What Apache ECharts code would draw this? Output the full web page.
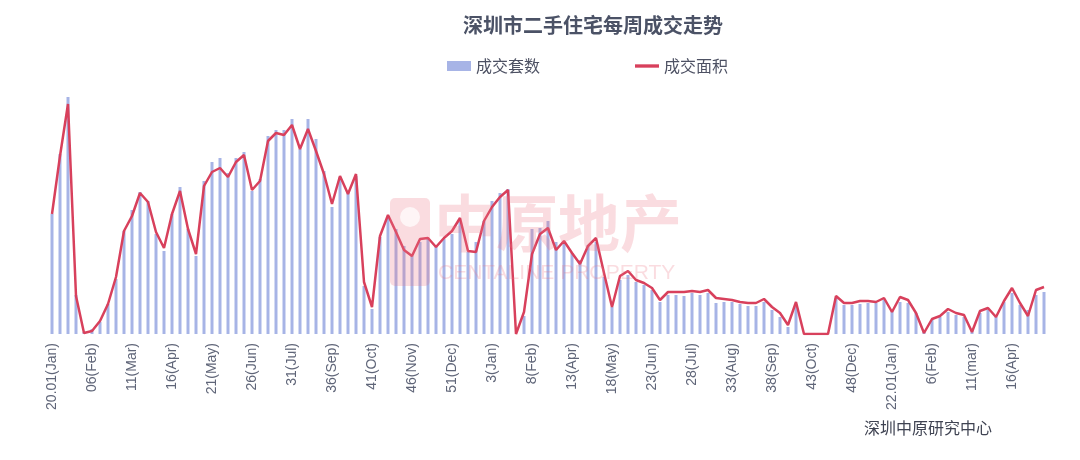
<!DOCTYPE html>
<html>
<head>
<meta charset="utf-8">
<script src="https://cdn.jsdelivr.net/npm/echarts@6/dist/echarts.min.js"></script>
<style>
html,body{margin:0;padding:0;background:#fff;}
#chart{width:1080px;height:460px;}
</style>
</head>
<body>
<div id="chart"></div>
<script>
// Weeks per year shown: 2020 (53 weeks), 2021 (52 weeks), 2022 (first 20 weeks)
const years = ['20', '21', '22'];
const weeksPerYear = [53, 52, 20];
// Tick labels shown every 5th week
const tickLabels = ['20.01(Jan)','06(Feb)','11(Mar)','16(Apr)','21(May)','26(Jun)','31(Jul)','36(Sep)','41(Oct)','46(Nov)','51(Dec)',
  '3(Jan)','8(Feb)','13(Apr)','18(May)','23(Jun)','28(Jul)','33(Aug)','38(Sep)','43(Oct)','48(Dec)',
  '22.01(Jan)','6(Feb)','11(mar)','16(Apr)'];

// 成交套数 (relative units)
const units = [
  120,180,237,39,2,5,12,30,55,103,
  124,142,133,100,83,120,147,105,78,153,
  172,176,161,176,182,143,155,198,204,204,
  215,185,215,195,163,127,157,142,158,48,
  25,97,117,105,88,78,92,95,87,95,
  100,112,82,92,113,133,141,145,0,18,
  105,106,113,92,91,81,74,89,92,57,
  27,54,59,52,49,44,32,39,39,38,
  41,39,41,31,32,32,30,28,28,32,
  24,17,7,27,0,0,0,0,36,29,
  29,30,31,31,34,24,32,31,21,4,
  14,17,22,19,17,4,21,24,17,32,
  41,29,24,39,42
];
// 成交面积 (relative units)
const area = [
  120,178,230,38,1,3,13,30,57,103,
  118,141,132,102,86,120,143,105,80,148,
  162,166,157,172,179,144,153,193,201,199,
  209,185,205,183,160,130,158,140,160,52,
  27,98,119,102,84,78,95,96,87,96,
  103,116,83,82,113,127,137,144,0,22,
  80,100,106,84,93,81,70,88,96,61,
  27,58,63,54,51,46,34,42,42,42,
  43,42,44,36,35,34,32,31,31,35,
  27,21,9,32,0,0,0,0,38,31,
  31,33,33,32,36,22,37,34,21,1,
  15,18,25,21,19,2,23,26,17,33,
  46,31,18,44,47
];

const categories = [];
years.forEach((y, yi) => {
  for (let w = 1; w <= weeksPerYear[yi]; w++) categories.push(y + '-W' + w);
});

const chart = echarts.init(document.getElementById('chart'), null, {renderer: 'canvas'});
const wmColor = 'rgba(236,120,135,0.26)';
chart.setOption({
  animation: false,
  backgroundColor: '#ffffff',
  title: {
    text: '深圳市二手住宅每周成交走势',
    left: 588, top: 10, textAlign: 'center',
    textStyle: {fontSize: 20, fontWeight: 'bold', color: '#4b5266', fontFamily: '"Noto Sans CJK SC", sans-serif'}
  },
  legend: {
    top: 53, left: 442,
    itemGap: 95, itemWidth: 24, itemHeight: 10,
    textStyle: {fontSize: 16, color: '#4d5163', fontFamily: '"Noto Sans CJK SC", sans-serif'},
    data: [
      {name: '成交套数', icon: 'rect'},
      {name: '成交面积', icon: 'path://M0,0 L100,0 L100,14 L0,14 Z'}
    ]
  },
  grid: {left: 48, right: 32, top: 84, bottom: 126},
  xAxis: {
    type: 'category',
    data: categories,
    boundaryGap: true,
    axisLine: {show: false},
    axisTick: {show: false},
    axisLabel: {
      interval: 4, rotate: 90, margin: 9,
      fontSize: 14, color: '#5f6578', fontFamily: 'Liberation Sans, Arial, sans-serif',
      formatter: (v, idx) => tickLabels[Math.round(idx / 5)]
    }
  },
  yAxis: {type: 'value', min: 0, max: 250, show: false, splitLine: {show: false}},
  series: [
    {name: '成交套数', type: 'bar', data: units, barWidth: 3, itemStyle: {color: '#a7b4e6'}, z: 2},
    {name: '成交面积', type: 'line', data: area, symbol: 'none', showSymbol: false,
     lineStyle: {color: '#d8405c', width: 2.5}, itemStyle: {color: '#d8405c'}, z: 3}
  ],
  graphic: [
    {type: 'rect', left: 390, top: 198, shape: {width: 40, height: 88, r: 5}, style: {fill: wmColor}, z: 10, silent: true},
    {type: 'circle', left: 400, top: 207, shape: {r: 10}, style: {fill: 'rgba(255,255,255,0.7)'}, z: 11, silent: true},
    {type: 'text', left: 434, top: 192, style: {text: '中原地产', font: 'bold 62px "Noto Sans CJK SC", sans-serif', fill: wmColor}, z: 10, silent: true},
    {type: 'text', left: 438, top: 263, style: {text: 'CENTALINE PROPERTY', font: '21px "Liberation Sans", Arial, sans-serif', fill: wmColor}, z: 10, silent: true},
    {type: 'text', left: 864, top: 420, style: {text: '深圳中原研究中心', font: '16px "Noto Sans CJK SC", sans-serif', fill: '#3f4352'}, z: 10}
  ]
});
</script>
</body>
</html>
